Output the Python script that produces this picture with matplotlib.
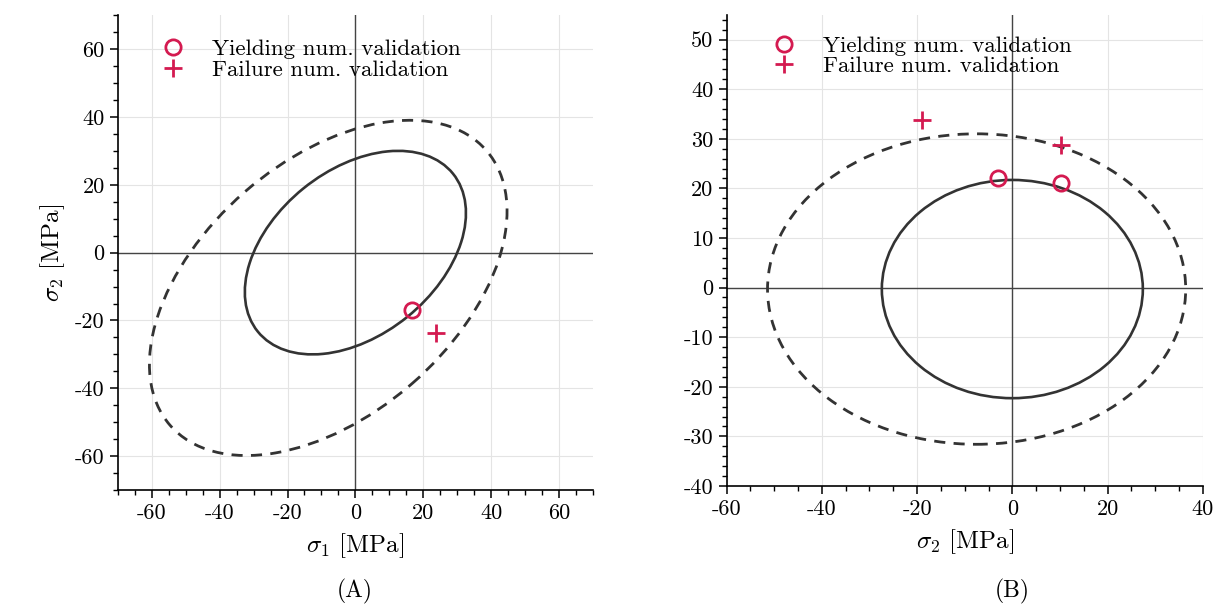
import matplotlib
matplotlib.use("Agg")
import matplotlib.pyplot as plt
from matplotlib.patches import Ellipse
from matplotlib.ticker import MultipleLocator

plt.rcParams['font.family'] = ['cmr10', 'DejaVu Serif']
plt.rcParams['mathtext.fontset'] = 'cm'
plt.rcParams['axes.unicode_minus'] = False
plt.rcParams['axes.formatter.use_mathtext'] = False

# ellipse parameters: centre, (width, height), angle
yield_a_center = (0.0, 0.0)
yield_a_size = (74.0, 48.7)
yield_a_angle = 39.0
fail_a_center = (-8.0, -10.4)
fail_a_size = (123.5, 75.0)
fail_a_angle = 41.0

yield_b_center = (0.0, -0.3)
yield_b_size = (54.8, 44.0)
yield_b_angle = 0.0
fail_b_center = (-7.5, -0.3)
fail_b_size = (87.8, 62.6)
fail_b_angle = 0.0

# numerical validation points
a_yield_x = [16.7]
a_yield_y = [-16.8]
a_fail_x = [23.8]
a_fail_y = [-23.8]
b_yield_x = [-3.1, 10.2]
b_yield_y = [22.0, 21.1]
b_fail_x = [-19.0, 10.2]
b_fail_y = [33.7, 28.7]

a_ticks = [-60, -40, -20, 0, 20, 40, 60]
b_xticks = [-60, -40, -20, 0, 20, 40]
b_yticks = [-40, -30, -20, -10, 0, 10, 20, 30, 40, 50]

red = '#d41a50'
curve = '#333333'

fig = plt.figure(figsize=(12.15, 6.08), dpi=100)
axA = fig.add_axes([0.097, 0.194, 0.391, 0.781])
axB = fig.add_axes([0.598, 0.2007, 0.392, 0.775])


def style(ax, xminor, yminor):
    for s in ['top', 'right']:
        ax.spines[s].set_visible(False)
    for s in ['left', 'bottom']:
        ax.spines[s].set_linewidth(1.2)
    ax.xaxis.set_minor_locator(MultipleLocator(xminor))
    ax.yaxis.set_minor_locator(MultipleLocator(yminor))
    ax.tick_params(which='major', length=6, width=1.1, labelsize=16, direction='out')
    ax.tick_params(which='minor', length=3.5, width=1.0, direction='out')
    ax.grid(True, which='major', color='#e4e4e4', lw=0.8)
    ax.set_axisbelow(True)
    ax.axhline(0, color='#444444', lw=1.0, zorder=1)
    ax.axvline(0, color='#444444', lw=1.0, zorder=1)


# (A)
style(axA, 5, 5)
axA.set_xlim(-70, 70)
axA.set_ylim(-70, 70)
axA.set_xticks(a_ticks)
axA.set_yticks(a_ticks)
axA.add_patch(Ellipse(yield_a_center, *yield_a_size, angle=yield_a_angle,
                      fill=False, ec=curve, lw=1.9, zorder=2))
axA.add_patch(Ellipse(fail_a_center, *fail_a_size, angle=fail_a_angle,
                      fill=False, ec=curve, lw=2.0, ls=(0, (4, 3)), zorder=2))
axA.plot(a_yield_x, a_yield_y, 'o', ms=11, mfc='none', mec=red, mew=2,
         label='Yielding num. validation', zorder=3)
axA.plot(a_fail_x, a_fail_y, '+', ms=13, mec=red, mew=2,
         label='Failure num. validation', zorder=3)
axA.set_xlabel(r'$\sigma_1$ [MPa]', fontsize=18, labelpad=6)
axA.set_ylabel(r'$\sigma_2$ [MPa]', fontsize=18, labelpad=6)
axA.legend(loc='upper left', bbox_to_anchor=(0.093, 0.95), frameon=False,
           fontsize=16.5, handlelength=1.0, handletextpad=1.2,
           labelspacing=0.05, borderpad=0, borderaxespad=0)

# (B)
style(axB, 5, 2)
axB.set_xlim(-60, 40)
axB.set_ylim(-40, 55)
axB.set_xticks(b_xticks)
axB.set_yticks(b_yticks)
axB.add_patch(Ellipse(yield_b_center, *yield_b_size, angle=yield_b_angle,
                      fill=False, ec=curve, lw=1.9, zorder=2))
axB.add_patch(Ellipse(fail_b_center, *fail_b_size, angle=fail_b_angle,
                      fill=False, ec=curve, lw=2.0, ls=(0, (4, 3)), zorder=2))
axB.plot(b_yield_x, b_yield_y, 'o', ms=11, mfc='none', mec=red, mew=2,
         label='Yielding num. validation', zorder=3)
axB.plot(b_fail_x, b_fail_y, '+', ms=13, mec=red, mew=2,
         label='Failure num. validation', zorder=3)
axB.set_xlabel(r'$\sigma_2$ [MPa]', fontsize=18, labelpad=6)
axB.legend(loc='upper left', bbox_to_anchor=(0.097, 0.955), frameon=False,
           fontsize=16.5, handlelength=1.0, handletextpad=1.2,
           labelspacing=0.0, borderpad=0, borderaxespad=0)

fig.text(0.292, 0.018, '(A)', ha='center', fontsize=17)
fig.text(0.833, 0.018, '(B)', ha='center', fontsize=17)

fig.savefig('out.png', dpi=100)
